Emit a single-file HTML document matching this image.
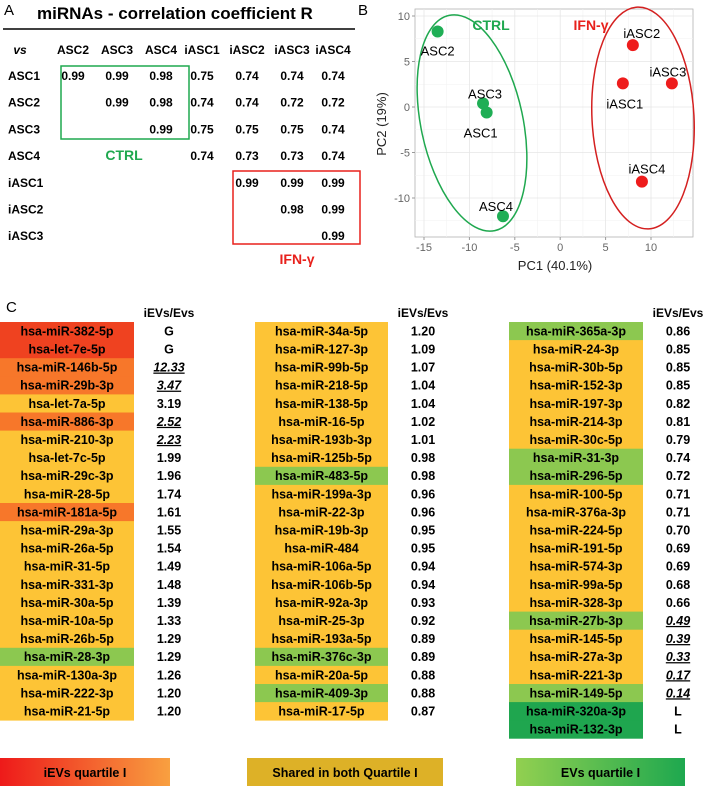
<!DOCTYPE html>
<html><head><meta charset="utf-8"><style>
html,body{margin:0;padding:0;background:#fff;}
svg{display:block;font-family:"Liberation Sans",Arial,sans-serif;}
.b{font-weight:bold;}
</style></head><body>
<svg id="fig" width="709" height="786" viewBox="0 0 709 786" xmlns="http://www.w3.org/2000/svg">
<g id="panelA">
<text x="4" y="15" font-size="15">A</text>
<text x="37" y="19" font-size="17" class="b">miRNAs - correlation coefficient R</text>
<line x1="3" y1="29" x2="355" y2="29" stroke="#000" stroke-width="1.5"/>
<rect x="61" y="66" width="128" height="73" fill="none" stroke="#1fa84f" stroke-width="1.5"/>
<text x="124" y="160" font-size="14" class="b" fill="#1fa84f" text-anchor="middle">CTRL</text>
<rect x="233" y="171" width="127" height="73" fill="none" stroke="#e8211c" stroke-width="1.5"/>
<text x="297" y="264" font-size="14" class="b" fill="#e8211c" text-anchor="middle">IFN-γ</text>
</g>
<g id="panelB"></g>
<g id="panelC"></g>
</svg>
<script>
var NS="http://www.w3.org/2000/svg";
function mk(tag,attrs,parent,txt){var e=document.createElementNS(NS,tag);for(var k in attrs)e.setAttribute(k,attrs[k]);if(txt!==undefined)e.textContent=txt;parent.appendChild(e);return e;}

// ---------- Panel A ----------
var colLabels=["ASC2","ASC3","ASC4","iASC1","iASC2","iASC3","iASC4"];
var rowLabels=["ASC1","ASC2","ASC3","ASC4","iASC1","iASC2","iASC3"];
var corrValues=[
 ["0.99","0.99","0.98","0.75","0.74","0.74","0.74"],
 ["","0.99","0.98","0.74","0.74","0.72","0.72"],
 ["","","0.99","0.75","0.75","0.75","0.74"],
 ["","","","0.74","0.73","0.73","0.74"],
 ["","","","","0.99","0.99","0.99"],
 ["","","","","","0.98","0.99"],
 ["","","","","","","0.99"]];
var A=document.getElementById("panelA");
var colX=[73,117,161,202,247,292,333];
var rowY0=80,rowDY=26.7;
var vs=mk("text",{x:20,y:54,"font-size":12,"font-weight":"bold","font-style":"italic","text-anchor":"middle"},A,"vs");


colLabels.forEach(function(c,i){
 var t=mk("text",{x:colX[i],y:54,"font-size":12,"font-weight":"bold","text-anchor":"middle"},A,c);
 
 
});
rowLabels.forEach(function(r,j){
 var y=rowY0+j*rowDY;
 var t=mk("text",{x:8,y:y,"font-size":12,"font-weight":"bold"},A,r);
 
 
 corrValues[j].forEach(function(v,i){
  if(!v)return;
  var c=mk("text",{x:colX[i],y:y,"font-size":12,"font-weight":"bold","text-anchor":"middle"},A,v);
  
  
 });
});

// ---------- Panel B ----------
var sampleNames=["ASC2","ASC3","ASC1","ASC4","iASC2","iASC1","iASC3","iASC4"];
var pc1Values=[-13.5,-8.5,-8.1,-6.3,8.0,6.9,12.3,9.0];
var pc2Values=[8.3,0.4,-0.6,-12.0,6.8,2.6,2.6,-8.2];
var sampleGroup=["CTRL","CTRL","CTRL","CTRL","IFN","IFN","IFN","IFN"];
var xTicks=[-15,-10,-5,0,5,10];
var yTicks=[10,5,0,-5,-10];
var B=document.getElementById("panelB");
var pl=415,pr=693,pt=9,pb=237;
function sx(v){return 424+(v+15)*(227/25);}
function sy(v){return 107-v*9.1;}
var lb=mk("text",{x:358,y:15,"font-size":15},B,"B");

var bg=mk("rect",{x:pl,y:pt,width:pr-pl,height:pb-pt,fill:"#fff",stroke:"#b3b3b3","stroke-width":0.8},B);

for(var m=-17.5;m<=12.5;m+=5){var gx=sx(m);if(gx>pl&&gx<pr){var g=mk("line",{x1:gx,x2:gx,y1:pt,y2:pb,stroke:"#f2f2f2","stroke-width":0.6},B);}}
for(var m2=-12.5;m2<=12.5;m2+=5){var gy=sy(m2);if(gy>pt&&gy<pb){var g2=mk("line",{x1:pl,x2:pr,y1:gy,y2:gy,stroke:"#f2f2f2","stroke-width":0.6},B);}}
xTicks.forEach(function(v){
 var x=sx(v);
 var g=mk("line",{x1:x,x2:x,y1:pt,y2:pb,stroke:"#e6e6e6","stroke-width":0.8},B);
 
 var tk=mk("line",{x1:x,x2:x,y1:pb,y2:pb+3,stroke:"#999"},B);
 
 var t=mk("text",{x:x,y:pb+14,"font-size":11,fill:"#666","text-anchor":"middle"},B,String(v));
 
});
yTicks.forEach(function(v){
 var y=sy(v);
 var g=mk("line",{x1:pl,x2:pr,y1:y,y2:y,stroke:"#e6e6e6","stroke-width":0.8},B);
 
 var tk=mk("line",{x1:pl-3,x2:pl,y1:y,y2:y,stroke:"#999"},B);
 
 var t=mk("text",{x:pl-5,y:y+4,"font-size":11,fill:"#666","text-anchor":"end"},B,String(v));
 
});
var xt=mk("text",{x:555,y:270,"font-size":13,fill:"#222","text-anchor":"middle"},B,"PC1 (40.1%)");

var yt=mk("text",{x:0,y:0,"font-size":13,fill:"#222","text-anchor":"middle",transform:"translate(386,124) rotate(-90)"},B,"PC2 (19%)");

var e1=mk("ellipse",{cx:472,cy:123,rx:51,ry:110,fill:"none",stroke:"#1fa84f","stroke-width":1.5,transform:"rotate(-12 472 123)"},B);

var e2=mk("ellipse",{cx:643,cy:118,rx:51,ry:111,fill:"none",stroke:"#d42020","stroke-width":1.5,transform:"rotate(-3 643 118)"},B);

var gc=mk("text",{x:491,y:30,"font-size":14,"font-weight":"bold",fill:"#1fa84f","text-anchor":"middle"},B,"CTRL");

var gi=mk("text",{x:591,y:30,"font-size":14,"font-weight":"bold",fill:"#e8211c","text-anchor":"middle"},B,"IFN-γ");

var labOff={"ASC2":[0,20],"ASC3":[2,-9],"ASC1":[-6,21],"ASC4":[-7,-9],"iASC2":[9,-11],"iASC1":[2,21],"iASC3":[-4,-11],"iASC4":[5,-12]};
sampleNames.forEach(function(n,i){
 var x=sx(pc1Values[i]),y=sy(pc2Values[i]);
 var c=mk("circle",{cx:x,cy:y,r:6,fill:sampleGroup[i]=="CTRL"?"#1fae55":"#ee1c1c"},B);
 
 
 var o=labOff[n];
 var t=mk("text",{x:x+o[0],y:y+o[1]+4,"font-size":13,fill:"#000","text-anchor":"middle"},B,n);
 
 
});

// ---------- Panel C ----------
var C=document.getElementById("panelC");
var col1Names=["hsa-miR-382-5p","hsa-let-7e-5p","hsa-miR-146b-5p","hsa-miR-29b-3p","hsa-let-7a-5p","hsa-miR-886-3p","hsa-miR-210-3p","hsa-let-7c-5p","hsa-miR-29c-3p","hsa-miR-28-5p","hsa-miR-181a-5p","hsa-miR-29a-3p","hsa-miR-26a-5p","hsa-miR-31-5p","hsa-miR-331-3p","hsa-miR-30a-5p","hsa-miR-10a-5p","hsa-miR-26b-5p","hsa-miR-28-3p","hsa-miR-130a-3p","hsa-miR-222-3p","hsa-miR-21-5p"];
var col1Values=["G","G","12.33","3.47","3.19","2.52","2.23","1.99","1.96","1.74","1.61","1.55","1.54","1.49","1.48","1.39","1.33","1.29","1.29","1.26","1.20","1.20"];
var col1Class=["R","R","O","O","Y","O","Y","Y","Y","Y","O","Y","Y","Y","Y","Y","Y","Y","L","Y","Y","Y"];
var col1Emph=[0,0,1,1,0,1,1,0,0,0,0,0,0,0,0,0,0,0,0,0,0,0];
var col2Names=["hsa-miR-34a-5p","hsa-miR-127-3p","hsa-miR-99b-5p","hsa-miR-218-5p","hsa-miR-138-5p","hsa-miR-16-5p","hsa-miR-193b-3p","hsa-miR-125b-5p","hsa-miR-483-5p","hsa-miR-199a-3p","hsa-miR-22-3p","hsa-miR-19b-3p","hsa-miR-484","hsa-miR-106a-5p","hsa-miR-106b-5p","hsa-miR-92a-3p","hsa-miR-25-3p","hsa-miR-193a-5p","hsa-miR-376c-3p","hsa-miR-20a-5p","hsa-miR-409-3p","hsa-miR-17-5p"];
var col2Values=["1.20","1.09","1.07","1.04","1.04","1.02","1.01","0.98","0.98","0.96","0.96","0.95","0.95","0.94","0.94","0.93","0.92","0.89","0.89","0.88","0.88","0.87"];
var col2Class=["Y","Y","Y","Y","Y","Y","Y","Y","L","Y","Y","Y","Y","Y","Y","Y","Y","Y","L","Y","L","Y"];
var col3Names=["hsa-miR-365a-3p","hsa-miR-24-3p","hsa-miR-30b-5p","hsa-miR-152-3p","hsa-miR-197-3p","hsa-miR-214-3p","hsa-miR-30c-5p","hsa-miR-31-3p","hsa-miR-296-5p","hsa-miR-100-5p","hsa-miR-376a-3p","hsa-miR-224-5p","hsa-miR-191-5p","hsa-miR-574-3p","hsa-miR-99a-5p","hsa-miR-328-3p","hsa-miR-27b-3p","hsa-miR-145-5p","hsa-miR-27a-3p","hsa-miR-221-3p","hsa-miR-149-5p","hsa-miR-320a-3p","hsa-miR-132-3p"];
var col3Values=["0.86","0.85","0.85","0.85","0.82","0.81","0.79","0.74","0.72","0.71","0.71","0.70","0.69","0.69","0.68","0.66","0.49","0.39","0.33","0.17","0.14","L","L"];
var col3Class=["L","Y","Y","Y","Y","Y","Y","L","L","Y","Y","Y","Y","Y","Y","Y","L","Y","Y","Y","L","D","D"];
var col3Emph=[0,0,0,0,0,0,0,0,0,0,0,0,0,0,0,0,1,1,1,1,1,0,0];
var fills={R:"#ef4220",O:"#f7772a",Y:"#fdc436",L:"#8cc850",D:"#1fa64f"};

var cl=mk("text",{x:6,y:312,"font-size":15},C,"C");


function drawCol(names,vals,cls,emph,x0,x1,vx,top,rh,key){
 var h=mk("text",{x:vx,y:top-5,"font-size":12,"font-weight":"bold","text-anchor":"middle"},C,"iEVs/Evs");
 
 
 names.forEach(function(n,i){
  var y=top+i*rh;
  var r=mk("rect",{x:x0,y:y,width:x1-x0,height:rh+0.4,fill:fills[cls[i]]},C);
  
  
  var t=mk("text",{x:(x0+x1)/2,y:y+rh/2+4.3,"font-size":12.5,"font-weight":"bold","text-anchor":"middle"},C,n);
  
  
  var a={x:vx,y:y+rh/2+4.3,"font-size":12.5,"font-weight":"bold","text-anchor":"middle"};
  if(emph[i]){a["font-style"]="italic";a["text-decoration"]="underline";}
  var v=mk("text",a,C,vals[i]);
  
  
 });
}
var zeros=col2Names.map(function(){return 0;});
drawCol(col1Names,col1Values,col1Class,col1Emph,0,134,169,322,18.1,"1");
drawCol(col2Names,col2Values,col2Class,zeros,255,388,423,322,18.1,"2");
drawCol(col3Names,col3Values,col3Class,col3Emph,509,643,678,322,18.1,"3");

// legend
var defs=mk("defs",{},C);
var g1=mk("linearGradient",{id:"gr1",x1:0,x2:1,y1:0,y2:0},defs);
mk("stop",{offset:0,"stop-color":"#ee1a1a"},g1);mk("stop",{offset:1,"stop-color":"#f8a040"},g1);
var g3=mk("linearGradient",{id:"gr3",x1:0,x2:1,y1:0,y2:0},defs);
mk("stop",{offset:0,"stop-color":"#92d050"},g3);mk("stop",{offset:1,"stop-color":"#1ea84f"},g3);
var legends=[["iEVs quartile I","url(#gr1)",0,170,"legend-iev-quartile"],["Shared in both Quartile I","#ddb127",247,443,"legend-shared-quartile"],["EVs quartile I","url(#gr3)",516,685,"legend-ev-quartile"]];
legends.forEach(function(l){
 var r=mk("rect",{x:l[2],y:758,width:l[3]-l[2],height:28,fill:l[1]},C);
 
 
 var t=mk("text",{x:(l[2]+l[3])/2,y:777,"font-size":12.5,"font-weight":"bold","text-anchor":"middle"},C,l[0]);
 
 
});
</script>
</body></html>
